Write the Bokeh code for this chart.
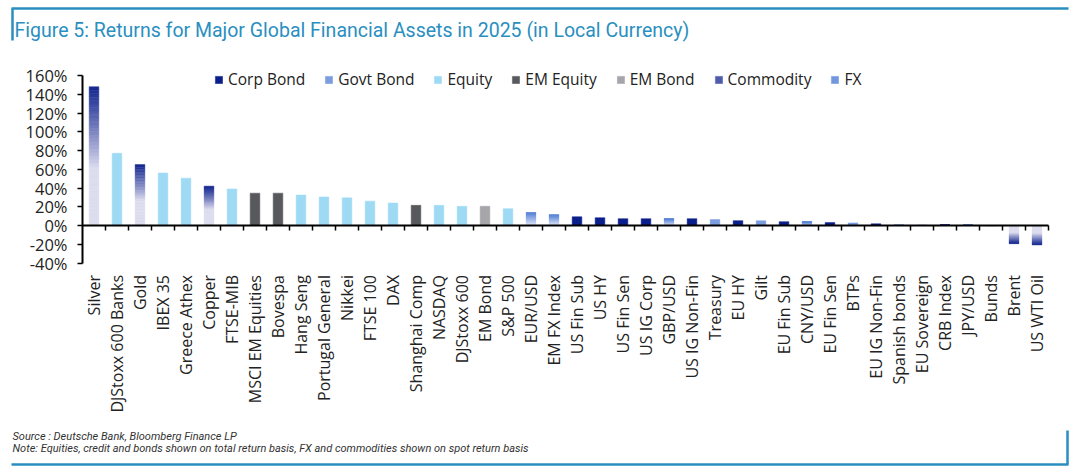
import math
import numpy as np
from bokeh.plotting import figure
from bokeh.models import (Range1d, LinearAxis, FixedTicker, CustomJSTickFormatter,
                          PrintfTickFormatter, ColumnDataSource, Legend, LegendItem, Label)
from bokeh.embed import file_html
from bokeh.resources import INLINE

# ---------------- data ----------------
categories = ["Silver", "DJStoxx 600 Banks", "Gold", "IBEX 35", "Greece Athex", "Copper",
              "FTSE-MIB", "MSCI EM Equities", "Bovespa", "Hang Seng", "Portugal General",
              "Nikkei", "FTSE 100", "DAX", "Shanghai Comp", "NASDAQ", "DJStoxx 600",
              "EM Bond", "S&P 500", "EUR/USD", "EM FX Index", "US Fin Sub", "US HY",
              "US Fin Sen", "US IG Corp", "GBP/USD", "US IG Non-Fin", "Treasury", "EU HY",
              "Gilt", "EU Fin Sub", "CNY/USD", "EU Fin Sen", "BTPs", "EU IG Non-Fin",
              "Spanish bonds", "EU Sovereign", "CRB Index", "JPY/USD", "Bunds", "Brent",
              "US WTI Oil"]
returns = [148.0, 77.0, 65.0, 56.0, 50.5, 42.0,
           39.0, 34.5, 34.5, 32.5, 30.5,
           29.5, 26.0, 24.0, 21.5, 21.5, 20.5,
           20.5, 18.0, 13.8, 11.5, 9.3, 8.3,
           7.3, 7.3, 7.3, 7.3, 6.3, 5.2,
           5.0, 4.1, 4.0, 3.1, 2.8, 1.8,
           1.0, 0.6, 0.3, 0.2, -0.4, -19.4,
           -20.7]
asset_class = ["Commodity", "Equity", "Commodity", "Equity", "Equity", "Commodity",
               "Equity", "EM Equity", "EM Equity", "Equity", "Equity",
               "Equity", "Equity", "Equity", "EM Equity", "Equity", "Equity",
               "EM Bond", "Equity", "FX", "FX", "Corp Bond", "Corp Bond",
               "Corp Bond", "Corp Bond", "FX", "Corp Bond", "Govt Bond", "Corp Bond",
               "Govt Bond", "Corp Bond", "FX", "Corp Bond", "Govt Bond", "Corp Bond",
               "Govt Bond", "Govt Bond", "Commodity", "FX", "Govt Bond", "Commodity",
               "Commodity"]
legend_order = ["Corp Bond", "Govt Bond", "Equity", "EM Equity", "EM Bond", "Commodity", "FX"]
y_ticks = [-40, -20, 0, 20, 40, 60, 80, 100, 120, 140, 160]

title_text = "Figure 5: Returns for Major Global Financial Assets in 2025 (in Local Currency)"
source_text = "Source : Deutsche Bank, Bloomberg Finance LP"
note_text = ("Note: Equities, credit and bonds shown on total return basis, "
             "FX and commodities shown on spot return basis")

# ---------------- styles ----------------
solid_colors = {"Corp Bond": "#0b1f8c", "Govt Bond": "#7c9ce0", "Equity": "#9fdaf5",
                "EM Equity": "#58595d", "EM Bond": "#a5a5aa"}
# base colour, tip colour, start of gradient (fraction of bar length)
gradients = {"Commodity": ("#dcdcef", "#14268f", 0.42),
             "FX": ("#eef3fb", "#5a84d8", 0.0)}
N_SLICES = 40
BLUE = "#2a8fc0"
FONT = "Open Sans"


def hex2rgb(h):
    h = h.lstrip("#")
    return np.array([int(h[i:i + 2], 16) for i in (0, 2, 4)], dtype=float)


def mix(c0, c1, s):
    c = hex2rgb(c0) * (1 - s) + hex2rgb(c1) * s
    return "#%02x%02x%02x" % tuple(int(round(v)) for v in c)


# ---------------- layout (canvas px) ----------------
W, H = 1076, 471
PX_PER_CAT = 23.0
X0 = 82.0            # canvas x of category axis start
ZERO_Y = 225.0       # canvas y of 0%
PX_PER_PCT = 0.9375

p = figure(width=W, height=H, output_backend="svg", toolbar_location=None, tools="",
           x_range=Range1d(0, W), y_range=Range1d(H, 0),
           x_axis_location=None, y_axis_location=None, min_border=0,
           outline_line_color=None, background_fill_color="white",
           border_fill_color="white")
p.grid.visible = False

ncat = len(categories)
p.extra_x_ranges = {"num": Range1d(-X0 / PX_PER_CAT, ncat + (W - X0 - ncat * PX_PER_CAT) / PX_PER_CAT)}
p.extra_y_ranges = {"val": Range1d(-(H - ZERO_Y) / PX_PER_PCT, ZERO_Y / PX_PER_PCT)}

# ---------------- bars (solid + gradient slices) ----------------
xs, bots, tops, cols = [], [], [], []
legend_index = {}
for i, (cat, v, cls) in enumerate(zip(categories, returns, asset_class)):
    xc = i + 0.5
    if cls in gradients:
        base, tip, start = gradients[cls]
        for k in range(N_SLICES):
            t = (k + 0.5) / N_SLICES
            s = min(max((t - start) / (1 - start), 0.0), 1.0)
            xs.append(xc)
            bots.append(v * k / N_SLICES)
            tops.append(v * (k + 1) / N_SLICES)
            cols.append(mix(base, tip, s ** 0.9))
            if cls not in legend_index and cat in ("Copper", "EUR/USD") and k == int(N_SLICES * 0.8):
                legend_index[cls] = len(xs) - 1
    else:
        xs.append(xc)
        bots.append(0.0)
        tops.append(v)
        cols.append(solid_colors[cls])
        legend_index.setdefault(cls, len(xs) - 1)

src = ColumnDataSource(dict(x=xs, bottom=bots, top=tops, color=cols))
bars = p.vbar(x="x", bottom="bottom", top="top", width=0.42, fill_color="color",
              line_color="color", line_width=0.5, source=src,
              x_range_name="num", y_range_name="val")

# ---------------- axes ----------------
yaxis = LinearAxis(y_range_name="val", fixed_location=X0, bounds=(-40, 160),
                   ticker=FixedTicker(ticks=y_ticks),
                   formatter=PrintfTickFormatter(format="%d%%"),
                   major_tick_out=5, major_tick_in=0, minor_tick_line_color=None,
                   axis_line_width=2, axis_line_color="black",
                   major_tick_line_width=1.5, major_tick_line_color="black",
                   major_label_standoff=10, major_label_text_font=FONT,
                   major_label_text_font_size="16.5px", major_label_text_color="#222222")
p.add_layout(yaxis, "left")

xticks_axis = LinearAxis(x_range_name="num", y_range_name="val", fixed_location=0,
                         bounds=(0, ncat), ticker=FixedTicker(ticks=list(range(1, ncat + 1))),
                         formatter=CustomJSTickFormatter(code="return '';"),
                         major_tick_out=5, major_tick_in=0, minor_tick_line_color=None,
                         axis_line_width=2, axis_line_color="black",
                         major_tick_line_width=1.5, major_tick_line_color="black")
p.add_layout(xticks_axis, "below")

xlabels_axis = LinearAxis(x_range_name="num", y_range_name="val", fixed_location=-40,
                          ticker=FixedTicker(ticks=[i + 0.5 for i in range(ncat)]),
                          formatter=CustomJSTickFormatter(args=dict(cats=categories),
                                                          code="return cats[Math.floor(tick)];"),
                          axis_line_color=None, major_tick_line_color=None,
                          minor_tick_line_color=None, major_tick_out=0, major_tick_in=0,
                          major_label_orientation=math.pi / 2, major_label_standoff=12,
                          major_label_text_font=FONT, major_label_text_font_size="16px",
                          major_label_text_color="#222222")
p.add_layout(xlabels_axis, "below")

# ---------------- legend ----------------
items = [LegendItem(label=c, renderers=[bars], index=legend_index[c]) for c in legend_order]
legend = Legend(items=items, orientation="horizontal", location=(214, H - 80 - 10),
                glyph_width=9, glyph_height=9, label_standoff=5, spacing=19,
                padding=0, margin=0, border_line_color=None, background_fill_alpha=0,
                label_text_font=FONT, label_text_font_size="15.5px",
                label_text_color="#222222", label_height=20)
p.add_layout(legend)

# ---------------- title, notes, frame ----------------
p.add_layout(Label(x=14, y=30, text=title_text, text_font="Roboto", text_font_size="19.5px",
                   text_color=BLUE, text_baseline="middle"))
p.add_layout(Label(x=12, y=436, text=source_text, text_font="Roboto", text_font_size="11px",
                   text_font_style="italic", text_color="#333333", text_baseline="middle"))
p.add_layout(Label(x=12, y=448, text=note_text, text_font="Roboto", text_font_size="11px",
                   text_font_style="italic", text_color="#333333", text_baseline="middle"))

p.segment(x0=[11, 12, 11, 1067], y0=[8, 8, 464, 430],
          x1=[1068, 12, 1068, 1067], y1=[8, 40, 464, 464],
          line_color=BLUE, line_width=2.5)

open("out.html", "w").write(file_html(p, INLINE))
